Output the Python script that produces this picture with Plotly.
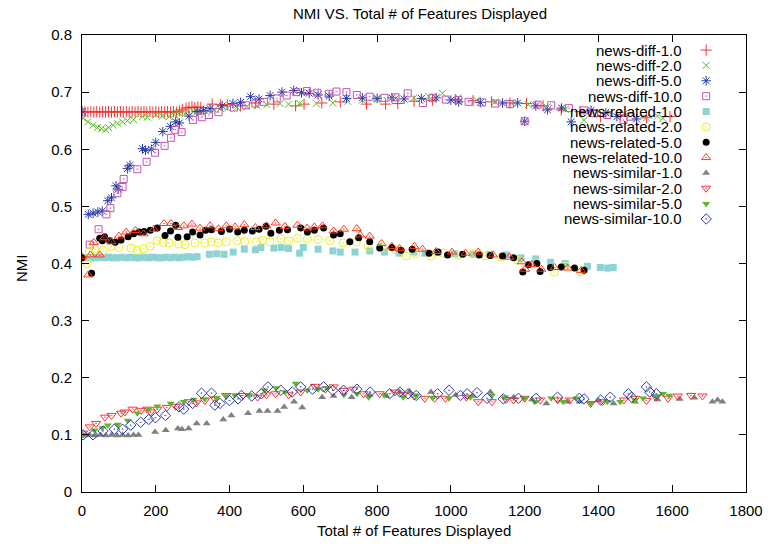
import plotly.graph_objects as go

# NMI measurements: (total features displayed, NMI) per run
DIFF_1 = [(0,.665),(8,.666),(16,.665),(24,.666),(32,.665),(40,.666),(48,.665),(56,.666),(64,.665),(72,.666),
          (80,.665),(88,.666),(96,.665),(104,.666),(112,.665),(120,.666),(128,.665),(136,.666),(144,.665),(152,.666),
          (160,.665),(168,.666),(176,.665),(184,.666),(192,.665),(200,.666),(208,.665),(216,.666),(224,.665),(232,.666),
          (240,.665),(248,.666),(256,.665),(264,.667),(272,.669),(282,.672),(290,.673),(298,.674),(306,.673),(314,.674),
          (322,.673),(353,.679),(376,.678),(394,.678),(430,.676),(470,.681),(520,.679),(579,.676),(602,.679),(650,.681),
          (700,.683),(771,.679),(823,.679),(856,.680),(900,.684),(950,.686),(1013,.687),(1060,.685),(1110,.683),(1160,.681),
          (1205,.680),(1250,.676),(1299,.669),(1350,.666),(1406,.657),(1460,.660),(1530,.655),(1594,.657)]

DIFF_2 = [(3,.654),(16,.648),(30,.642),(42,.638),(53,.636),(64,.634),(72,.638),(84,.642),(97,.645),(110,.648),
          (123,.650),(140,.652),(164,.657),(177,.656),(200,.660),(218,.658),(236,.657),(250,.661),(263,.663),(280,.662),
          (303,.666),(318,.664),(332,.669),(358,.669),(375,.671),(394,.672),(420,.673),(447,.675),(475,.676),(501,.678),
          (537,.680),(560,.679),(590,.680),(635,.680),(680,.681),(720,.684),(760,.686),(800,.687),(850,.689),(900,.690),
          (940,.692),(977,.698),(1020,.690),(1070,.686),(1120,.683),(1164,.681),(1210,.678),(1260,.674),(1310,.670),
          (1361,.651),(1420,.665),(1470,.662),(1530,.655),(1560,.658),(1575,.654)]

DIFF_5 = [(0,.666),(17,.486),(30,.488),(43,.490),(55,.492),(70,.510),(80,.515),(92,.536),(98,.530),(123,.566),
          (130,.572),(164,.601),(172,.598),(188,.600),(200,.612),(219,.631),(240,.640),(254,.648),(264,.646),(290,.658),
          (312,.666),(330,.668),(347,.671),(380,.676),(409,.680),(430,.682),(457,.692),(480,.688),(510,.694),(542,.700),
          (574,.703),(595,.699),(616,.698),(640,.695),(670,.693),(717,.689),(760,.690),(800,.689),(840,.690),(873,.688),
          (920,.689),(960,.690),(1000,.686),(1021,.683),(1080,.682),(1140,.681),(1181,.681),(1200,.649),(1230,.676),
          (1262,.669),(1300,.672),(1326,.648),(1380,.668),(1420,.664),(1450,.657),(1503,.653)]

DIFF_10 = [(0,.665),(21,.433),(45,.460),(66,.486),(77,.497),(96,.523),(110,.534),(113,.548),(150,.565),(175,.578),
           (198,.594),(224,.606),(241,.620),(253,.634),(270,.630),(301,.651),(325,.656),(344,.660),(370,.665),(412,.673),
           (444,.677),(470,.680),(493,.683),(528,.689),(555,.694),(581,.700),(610,.702),(638,.699),(669,.697),(690,.701),
           (717,.700),(745,.695),(780,.692),(820,.690),(850,.691),(883,.698),(924,.681),(950,.690),(986,.687),(1020,.686),
           (1048,.683),(1085,.682),(1120,.680),(1160,.679),(1200,.649),(1235,.678),(1272,.677),(1320,.672),(1360,.668),
           (1388,.663),(1424,.660),(1468,.651),(1487,.657)]

RELATED_1 = [(0,.410),(12,.410),(24,.411),(36,.410),(48,.411),(60,.410),(72,.411),(84,.410),(96,.410),(108,.411),
             (120,.410),(132,.411),(144,.410),(156,.410),(168,.411),(180,.410),(192,.411),(204,.410),(216,.410),(228,.411),
             (240,.410),(252,.411),(264,.410),(276,.411),(288,.412),(300,.411),(312,.412),(345,.416),(365,.417),(385,.416),
             (410,.420),(440,.425),(470,.424),(485,.428),(520,.427),(540,.428),(560,.426),(590,.418),(600,.428),(640,.425),
             (680,.422),(700,.420),(740,.420),(780,.422),(820,.420),(860,.418),(900,.420),(930,.418),(965,.419),(1010,.417),
             (1060,.416),(1105,.416),(1150,.415),(1190,.410),(1230,.408),(1270,.402),(1310,.400),(1370,.395),(1405,.393),
             (1425,.392),(1440,.393)]

RELATED_2 = [(13,.400),(20,.420),(35,.425),(57,.423),(80,.430),(100,.428),(133,.427),(150,.423),(167,.426),(185,.430),
             (204,.440),(220,.437),(236,.436),(262,.434),(279,.433),(306,.436),(333,.436),(350,.438),(369,.436),(391,.438),
             (420,.440),(441,.438),(473,.438),(490,.441),(509,.438),(539,.443),(560,.440),(584,.444),(611,.443),(640,.442),
             (672,.440),(708,.436),(744,.438),(776,.429),(812,.427),(850,.424),(879,.413),(905,.417),(946,.413),(980,.418),
             (1021,.415),(1060,.417),(1093,.413),(1138,.411),(1180,.406),(1227,.401),(1280,.385),(1310,.396),(1352,.385)]

RELATED_5 = [(0,.410),(26,.383),(48,.444),(55,.440),(61,.447),(75,.440),(90,.437),(106,.441),(125,.447),(140,.452),
             (155,.455),(168,.456),(185,.458),(204,.462),(225,.449),(240,.457),(254,.467),(260,.446),(285,.447),(300,.455),
             (320,.450),(335,.458),(351,.459),(378,.456),(400,.460),(422,.455),(440,.458),(462,.457),(480,.460),(499,.465),
             (512,.453),(535,.458),(557,.459),(593,.462),(611,.455),(630,.458),(655,.462),(682,.450),(700,.452),(726,.438),
             (750,.445),(780,.438),(807,.427),(840,.428),(865,.423),(895,.425),(941,.418),(965,.420),(991,.415),(1032,.416),
             (1077,.415),(1107,.414),(1140,.413),(1170,.410),(1195,.385),(1210,.398),(1233,.400),(1242,.386),(1270,.393),
             (1299,.394),(1335,.392),(1361,.388)]

RELATED_10 = [(0,.412),(17,.380),(23,.415),(32,.437),(48,.415),(60,.445),(80,.438),(100,.448),(120,.455),(145,.458),
              (167,.452),(195,.460),(222,.470),(241,.470),(260,.463),(276,.466),(298,.469),(320,.462),(347,.466),(370,.461),
              (391,.466),(415,.464),(440,.468),(470,.463),(500,.466),(525,.471),(550,.465),(584,.467),(610,.462),(630,.464),
              (652,.466),(682,.457),(710,.460),(745,.461),(754,.450),(780,.448),(812,.435),(840,.430),(861,.426),(901,.430),
              (923,.425),(960,.421),(1003,.420),(1040,.418),(1074,.420),(1114,.415),(1159,.411),(1192,.403),(1201,.390),
              (1219,.398),(1245,.390),(1281,.393),(1317,.392),(1353,.388)]

SIMILAR_1 = [(0,.100),(8,.099),(20,.100),(35,.099),(50,.100),(65,.099),(80,.100),(95,.099),(110,.100),(125,.099),
             (140,.100),(153,.100),(198,.105),(227,.108),(260,.111),(271,.110),(289,.111),(311,.120),(338,.120),(383,.127),
             (405,.134),(450,.138),(481,.142),(503,.142),(530,.142),(548,.149),(575,.158),(597,.148),(651,.166),(682,.168),
             (731,.166),(780,.170),(825,.168),(861,.175),(888,.176),(946,.175),(1013,.170),(1060,.168),(1107,.175),(1170,.166),
             (1220,.162),(1259,.155),(1317,.158),(1349,.158),(1400,.160),(1441,.155),(1499,.158),(1560,.162),(1620,.163),
             (1660,.165),(1709,.158),(1723,.161),(1736,.158)]

SIMILAR_2 = [(3,.103),(21,.114),(38,.120),(62,.131),(80,.134),(106,.138),(116,.140),(137,.145),(160,.143),(177,.145),
             (186,.140),(204,.145),(230,.148),(254,.150),(289,.158),(310,.156),(333,.160),(360,.163),(391,.169),(436,.169),
             (476,.166),(500,.170),(525,.172),(560,.170),(593,.175),(632,.185),(660,.180),(682,.184),(710,.178),(736,.180),
             (763,.172),(807,.172),(848,.175),(870,.170),(900,.168),(929,.164),(956,.164),(985,.164),(1042,.166),(1074,.158),
             (1111,.158),(1150,.162),(1170,.161),(1200,.164),(1242,.161),(1290,.161),(1322,.161),(1379,.155),(1411,.158),
             (1469,.161),(1500,.164),(1530,.160),(1556,.166),(1589,.164),(1615,.168),(1651,.169),(1682,.168)]

SIMILAR_5 = [(3,.100),(34,.108),(55,.112),(70,.117),(97,.118),(124,.125),(150,.138),(181,.145),(204,.150),(240,.155),
             (276,.158),(303,.162),(333,.163),(365,.165),(390,.168),(414,.170),(454,.170),(495,.178),(526,.182),(550,.175),
             (579,.190),(611,.178),(640,.180),(665,.182),(710,.170),(746,.172),(777,.166),(820,.170),(871,.166),(906,.168),
             (950,.165),(995,.164),(1053,.166),(1111,.169),(1147,.166),(1200,.164),(1227,.158),(1272,.164),(1304,.158),
             (1340,.164),(1379,.155),(1424,.158),(1459,.158),(1499,.161),(1521,.164),(1556,.168),(1575,.172),(1592,.169)]

SIMILAR_10 = [(3,.100),(30,.100),(57,.107),(88,.110),(110,.110),(132,.117),(159,.122),(181,.127),(199,.130),(226,.134),
              (263,.149),(276,.145),(300,.155),(324,.173),(351,.173),(360,.152),(374,.155),(400,.160),(423,.163),(432,.169),
              (460,.168),(486,.172),(504,.184),(539,.178),(570,.175),(593,.184),(625,.180),(655,.184),(680,.178),(709,.178),
              (745,.180),(781,.175),(834,.172),(862,.175),(884,.172),(906,.169),(964,.172),(995,.178),(1026,.169),(1044,.172),
              (1071,.174),(1098,.164),(1142,.163),(1183,.164),(1231,.164),(1289,.166),(1348,.164),(1361,.163),(1406,.161),
              (1432,.166),(1481,.172),(1490,.166),(1530,.184),(1539,.175),(1557,.172)]

SERIES_NAMES = ["news-diff-1.0", "news-diff-2.0", "news-diff-5.0", "news-diff-10.0",
                "news-related-1.0", "news-related-2.0", "news-related-5.0", "news-related-10.0",
                "news-similar-1.0", "news-similar-2.0", "news-similar-5.0", "news-similar-10.0"]
SERIES_DATA = [DIFF_1, DIFF_2, DIFF_5, DIFF_10, RELATED_1, RELATED_2, RELATED_5, RELATED_10,
               SIMILAR_1, SIMILAR_2, SIMILAR_5, SIMILAR_10]

X_TICKS = [0, 200, 400, 600, 800, 1000, 1200, 1400, 1600, 1800]
Y_TICKS = [0, 0.1, 0.2, 0.3, 0.4, 0.5, 0.6, 0.7, 0.8]
Y_TICK_TEXT = ["0", "0.1", "0.2", "0.3", "0.4", "0.5", "0.6", "0.7", "0.8"]

# marker style per series: (symbol, colour, size, open outline?)
STYLES = [
    ("cross-thin-open", "#ff3030", 8, True),
    ("x-thin-open", "#5cb82a", 7, True),
    ("asterisk-open", "#2a3ca8", 8, True),
    ("square-open-dot", "#c452b4", 7, True),
    ("square", "#8dd3d3", 7, False),
    ("circle-open-dot", "#eeee22", 8, True),
    ("circle", "#000000", 7, False),
    ("triangle-up-open-dot", "#ff3a1a", 8, True),
    ("triangle-up", "#808080", 7, False),
    ("triangle-down-open-dot", "#ff3030", 8, True),
    ("triangle-down", "#5cb82a", 7, False),
    ("diamond-open-dot", "#2a3ca8", 8, True),
]

FONT = "Liberation Sans, Arial, sans-serif"


def marker_for(style):
    symbol, color, size, outline = style
    if outline:
        return dict(symbol=symbol, size=size, color=color, line=dict(color=color, width=1))
    return dict(symbol=symbol, size=size, color=color, line=dict(width=0))


fig = go.Figure()

for name, pts, style in zip(SERIES_NAMES, SERIES_DATA, STYLES):
    xs = [p[0] for p in pts]
    ys = [p[1] for p in pts]
    fig.add_trace(go.Scatter(x=xs, y=ys, mode="markers", name=name,
                             marker=marker_for(style), showlegend=False))

# key in the upper right: label right-aligned, sample marker to its right
key_top, key_step = 0.967, 0.0336
key_rows = [key_top - i * key_step for i in range(len(SERIES_NAMES))]
for name, style, ky in zip(SERIES_NAMES, STYLES, key_rows):
    fig.add_trace(go.Scatter(x=[0.940], y=[ky], mode="markers", xaxis="x2", yaxis="y2",
                             marker=marker_for(style), showlegend=False, hoverinfo="skip"))
    fig.add_annotation(text=name, xref="paper", yref="paper", x=0.906, y=ky,
                       xanchor="right", yanchor="middle", showarrow=False,
                       font=dict(family=FONT, size=15, color="#000000"))

axis_common = dict(showgrid=False, zeroline=False, showline=True, linecolor="#000000",
                   linewidth=1, ticks="inside", ticklen=7, tickwidth=1, tickcolor="#000000",
                   mirror="allticks", tickfont=dict(family=FONT, size=15, color="#000000"))

fig.update_layout(
    width=775, height=544,
    margin=dict(l=82, r=21, t=35, b=52),
    paper_bgcolor="white", plot_bgcolor="white",
    title=dict(text="NMI VS. Total # of Features Displayed", x=0.542, xanchor="center",
               xref="container", y=1 - 14 / 544, yanchor="middle", yref="container",
               font=dict(family=FONT, size=15, color="#000000")),
    xaxis=dict(range=[0, 1800], tickvals=X_TICKS, ticklabelstandoff=5, **axis_common),
    yaxis=dict(range=[0, 0.8], tickvals=Y_TICKS, ticktext=Y_TICK_TEXT, ticklabelstandoff=6,
               **axis_common),
    xaxis2=dict(range=[0, 1], overlaying="x", visible=False),
    yaxis2=dict(range=[0, 1], overlaying="y", visible=False),
    annotations=list(fig.layout.annotations) + [
        dict(text="Total # of Features Displayed", xref="paper", yref="paper", x=0.5, y=-0.084,
             xanchor="center", yanchor="middle", showarrow=False,
             font=dict(family=FONT, size=15, color="#000000")),
        dict(text="NMI", xref="paper", yref="paper", x=-0.092, y=0.49, textangle=-90,
             xanchor="center", yanchor="middle", showarrow=False,
             font=dict(family=FONT, size=15, color="#000000")),
    ],
)

fig.write_html("out.html")
